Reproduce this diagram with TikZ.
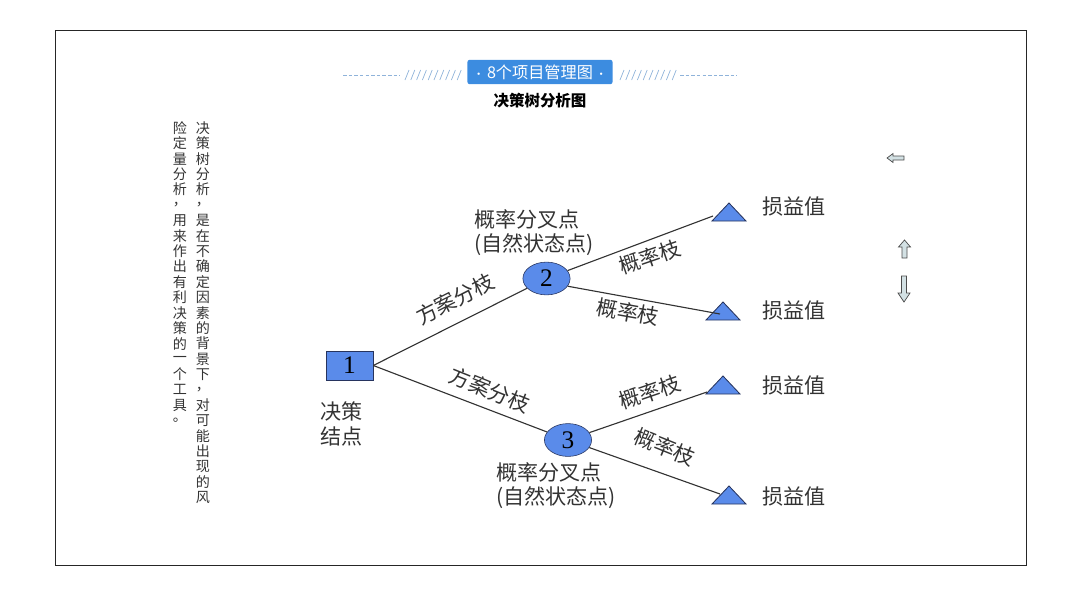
\documentclass[tikz,border=0pt]{standalone}
\usepackage{fontspec}
\setmainfont{Liberation Serif}
\newfontfamily\cjk{Noto Sans CJK SC}
\usetikzlibrary{shapes.geometric}

\definecolor{nodeblue}{HTML}{5A8BEA}
\definecolor{navy}{HTML}{27345E}
\definecolor{bannerblue}{HTML}{3C8CE0}
\definecolor{deco}{HTML}{8FB3DA}
\definecolor{txtgray}{HTML}{333333}
\definecolor{arrowfill}{HTML}{D3E1E4}

\begin{document}
\begin{tikzpicture}
[
x = 0.025cm, y = -0.025cm,
decision/.style = {draw = navy, fill = nodeblue, minimum width = 1.175cm, minimum height = 0.725cm, inner sep = 0pt, font = \fontsize{18}{18}\selectfont},
chance/.style = {ellipse, draw = navy, fill = nodeblue, minimum width = 1.18cm, minimum height = 0.82cm, inner sep = 0pt, font = \fontsize{18}{18}\selectfont},
branch/.style = {draw = txtgray, line width = 0.8pt},
lbl/.style = {font = \cjk\fontsize{15}{17.5}\selectfont, text = txtgray, inner sep = 0pt},
vtext/.style = {font = \cjk\fontsize{10}{10}\selectfont, text = txtgray, inner sep = 0pt},
endtri/.style = {draw = navy, fill = nodeblue, line width = 0.6pt},
blockarrow/.style = {draw = black!70, fill = arrowfill, line width = 0.5pt},
]

\useasboundingbox (0, 0) rectangle (1080, 593);
\draw [black!85, line width = 0.7pt] (55, 30) rectangle (1026, 565);

% title
\node (banner) at (540, 72) [fill = bannerblue, rounded corners = 1.5pt, minimum width = 3.625cm, minimum height = 0.575cm, text = white, font = \cjk\fontsize{11.5}{11.5}\selectfont] {{\fontsize{8}{8}\selectfont•}\,8个项目管理图\,{\fontsize{8}{8}\selectfont•}};
\draw [deco, dashed, dash pattern = on 2.5pt off 1.5pt] (343, 75) -- (400, 75);
\draw [deco, dashed, dash pattern = on 2.5pt off 1.5pt] (680, 75) -- (737, 75);
\foreach \s in {0,...,9}
{
  \draw [deco, line width = 0.5pt] (405 + \s * 5.8, 80) -- (409 + \s * 5.8, 70);
  \draw [deco, line width = 0.5pt] (620 + \s * 5.8, 80) -- (624 + \s * 5.8, 70);
}
\node (subtitle) at (540, 101) [font = \cjk\bfseries\fontsize{11}{11}\selectfont] {决策树分析图};

% vertical text
\foreach \c [count = \i from 0] in {决,策,树,分,析,，,是,在,不,确,定,因,素,的,背,景,下,，,对,可,能,出,现,的,风}
  \node [vtext] at (203, 128 + \i * 15.4) {\c};
\foreach \c [count = \i from 0] in {险,定,量,分,析,，,用,来,作,出,有,利,决,策,的,一,个,工,具,。}
  \node [vtext] at (180, 128 + \i * 15.4) {\c};

% tree
\node (b1) at (349.5, 365.5) [decision] {1};
\node (c2) at (546.5, 278.5) [chance] {2};
\node (c3) at (568, 440) [chance] {3};

\node (b1lbl) at (320, 424) [lbl, anchor = west, align = left] {决策\\结点};
\node (c2lbl) at (474, 232.5) [lbl, anchor = west, align = left] {概率分叉点\\(自然状态点)};
\node (c3lbl) at (496, 485.5) [lbl, anchor = west, align = left] {概率分叉点\\(自然状态点)};

\foreach \ax/\ay/\vy/\n in {729/203/207/1, 723/302/311/2, 723/376/386/3, 729/486/497/4}
{
  \draw [endtri] (\ax, \ay) -- ++(17, 18) -- ++(-34, 0) -- cycle;
  \node (v\n) at (762, \vy) [lbl, anchor = west] {损益值};
}

\coordinate (t1) at (713, 216);
\coordinate (t2) at (720, 314);
\coordinate (t3) at (707, 392);
\coordinate (t4) at (720, 494);

\draw [branch] (b1.east) -- (c2);
\draw [branch] (b1.east) -- (c3);
\draw [branch] (c2) -- (t1);
\draw [branch] (c2.-20) -- (t2);
\draw [branch] (c3) -- (t3);
\draw [branch] (c3) -- (t4);

\node (e1) at (455, 299) [lbl, rotate = 27] {方案分枝};
\node (e2) at (490, 390) [lbl, rotate = -22] {方案分枝};
\node (e3) at (650, 257) [lbl, rotate = 19] {概率枝};
\node (e4) at (628, 312) [lbl, rotate = -10] {概率枝};
\node (e5) at (650, 392) [lbl, rotate = 19] {概率枝};
\node (e6) at (665, 447) [lbl, rotate = -22] {概率枝};

% side arrows
\draw [blockarrow] (887, 158) -- (893, 153.5) -- (893, 156) -- (904, 156) -- (904, 160) -- (893, 160) -- (893, 162.5) -- cycle;
\draw [blockarrow] (904.5, 240) -- (910.5, 247) -- (907, 247) -- (907, 258) -- (902, 258) -- (902, 247) -- (898.5, 247) -- cycle;
\draw [blockarrow] (904, 302) -- (910, 293) -- (906.5, 293) -- (906.5, 276) -- (901.5, 276) -- (901.5, 293) -- (898, 293) -- cycle;
\end{tikzpicture}
\end{document}
